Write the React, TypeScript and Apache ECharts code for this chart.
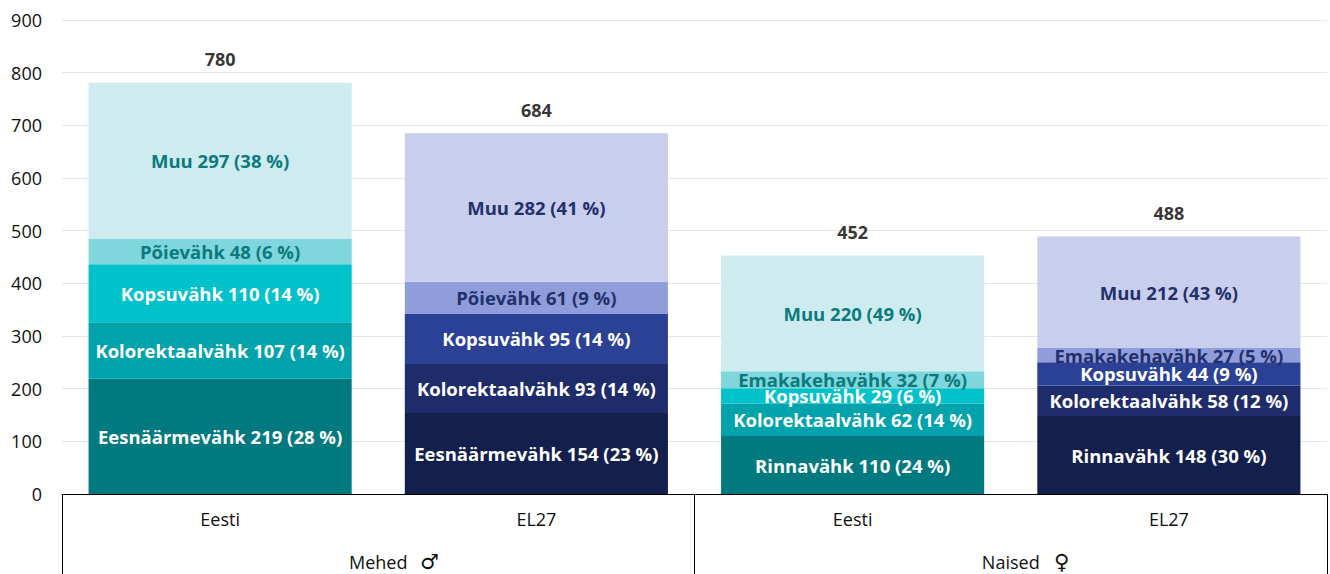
import React, { useEffect, useRef } from "react";
import * as echarts from "echarts";

// ---- Data ----
const categories = ["Eesti", "EL27", "Eesti", "EL27"];
const groups = ["Mehed", "Naised"];
const groupSymbols = ["♂", "♀"];
const segmentNames = [
  ["Eesnäärmevähk", "Kolorektaalvähk", "Kopsuvähk", "Põievähk", "Muu"],
  ["Eesnäärmevähk", "Kolorektaalvähk", "Kopsuvähk", "Põievähk", "Muu"],
  ["Rinnavähk", "Kolorektaalvähk", "Kopsuvähk", "Emakakehavähk", "Muu"],
  ["Rinnavähk", "Kolorektaalvähk", "Kopsuvähk", "Emakakehavähk", "Muu"],
];
const segmentValues = [
  [219, 107, 110, 48, 297],
  [154, 93, 95, 61, 282],
  [110, 62, 29, 32, 220],
  [148, 58, 44, 27, 212],
];
const segmentPercents = [
  [28, 14, 14, 6, 38],
  [23, 14, 14, 9, 41],
  [24, 14, 6, 7, 49],
  [30, 12, 9, 5, 43],
];
const totals = [780, 684, 452, 488];
const yTicks = { min: 0, max: 900, interval: 100 };

// ---- Styles ----
const teal = ["#007a7e", "#00a3ab", "#00c2cb", "#7fd6dc", "#ceecf0"];
const navy = ["#13204e", "#1f2c6b", "#2b4195", "#8f9edb", "#c9ceec"];
const tealText = ["#ffffff", "#ffffff", "#ffffff", "#0b7a7c", "#0b7a7c"];
const navyText = ["#ffffff", "#ffffff", "#ffffff", "#22306b", "#22306b"];
const palettes = [teal, navy, teal, navy];
const textPalettes = [tealText, navyText, tealText, navyText];
const FONT = "'Open Sans', 'Noto Sans', sans-serif";

export default function App() {
  const ref = useRef<HTMLDivElement>(null);
  useEffect(() => {
    if (!ref.current) return;
    const chart = echarts.init(ref.current, null, { renderer: "svg" });
    const levels = [0, 1, 2, 3, 4];
    const barSeries = levels.map((lvl) => ({
      type: "bar",
      stack: "total",
      xAxisIndex: 0,
      barCategoryGap: "16.8%",
      data: categories.map((_, ci) => ({
        value: segmentValues[ci][lvl],
        segName: segmentNames[ci][lvl],
        pct: segmentPercents[ci][lvl],
        itemStyle: { color: palettes[ci][lvl] },
        label: { color: textPalettes[ci][lvl] },
      })),
      label: {
        show: true,
        position: "inside",
        fontFamily: FONT,
        fontWeight: "bold",
        fontSize: 18.5,
        formatter: (p: any) => `${p.data.segName} ${p.data.value} (${p.data.pct} %)`,
      },
    }));
    const totalSeries = {
      type: "scatter",
      xAxisIndex: 0,
      symbolSize: 0,
      data: totals,
      label: {
        show: true,
        position: "inside",
        offset: [0, -24],
        fontFamily: FONT,
        fontWeight: "bold",
        fontSize: 18,
        color: "#000",
        formatter: (p: any) => `${p.value}`,
      },
      z: 10,
    };
    chart.setOption({
      animation: false,
      grid: { left: 62, right: 3, top: 20, bottom: 80, containLabel: false },
      xAxis: [
        {
          type: "category",
          data: categories,
          position: "bottom",
          offset: 0,
          axisLine: { show: false },
          axisTick: { show: false },
          axisLabel: { margin: 16, fontFamily: FONT, fontSize: 18, color: "#111" },
        },
        {
          type: "category",
          data: groups.map((g, i) => `{p|}{t|${g}}{g|}{s|${groupSymbols[i]}}`),
          position: "bottom",
          offset: 0,
          axisLine: { show: true, lineStyle: { color: "#000", width: 1 } },
          axisTick: { show: true, length: 82, lineStyle: { color: "#000", width: 1 } },
          axisLabel: {
            margin: 57,
            fontFamily: FONT,
            fontSize: 18,
            color: "#111",
            rich: {
              p: { width: 31 },
              t: { fontFamily: FONT, fontSize: 18, color: "#111" },
              g: { width: 13 },
              s: { fontFamily: "'DejaVu Sans', sans-serif", fontSize: 21, color: "#111", width: 18 },
            },
          },
        },
      ],
      yAxis: {
        type: "value",
        min: yTicks.min,
        max: yTicks.max,
        interval: yTicks.interval,
        axisLine: { show: false },
        axisTick: { show: false },
        axisLabel: { margin: 20, fontFamily: FONT, fontSize: 18, color: "#111" },
        splitLine: { lineStyle: { color: "#e6e6e6", width: 1 } },
      },
      series: [...barSeries, totalSeries],
    });
    return () => chart.dispose();
  }, []);
  return (
    <div
      ref={ref}
      style={{ position: "fixed", left: 0, top: 0, width: 1330, height: 574, background: "#fff" }}
    />
  );
}
